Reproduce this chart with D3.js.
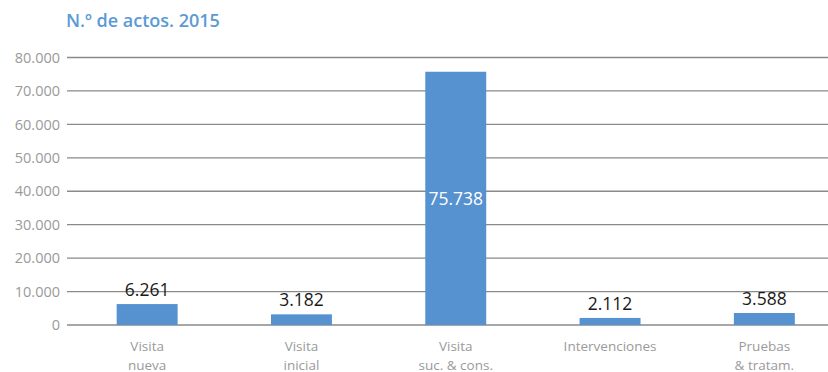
<!DOCTYPE html>
<html>
<head>
<meta charset="utf-8">
<script src="https://cdn.jsdelivr.net/npm/d3@7/dist/d3.min.js"></script>
<style>
  html, body { margin: 0; padding: 0; background: #fff; }
  svg { display: block; font-family: "Open Sans", "Noto Sans", sans-serif; }
</style>
</head>
<body>
<svg id="chart" width="828" height="372"></svg>
<script>
// Number of medical acts by type, 2015
const categories = [
  ["Visita", "nueva"],
  ["Visita", "inicial"],
  ["Visita", "suc. & cons."],
  ["Intervenciones"],
  ["Pruebas", "& tratam."]
];
const values = [6261, 3182, 75738, 2112, 3588];
const yTicks = [0, 10000, 20000, 30000, 40000, 50000, 60000, 70000, 80000];
const title = "N.º de actos. 2015";

const svg = d3.select("#chart");
const W = 828;

const x = d3.scaleBand()
  .domain(d3.range(categories.length))
  .range([70, 841.5])
  .paddingInner(0.605)
  .paddingOuter(0.3025);

const y = d3.scaleLinear().domain([0, 80000]).range([325, 57.5]);

const fmt = d3.formatLocale({ decimal: ",", thousands: ".", grouping: [3], currency: ["", "€"] }).format(",d");

// title
svg.append("text")
  .attr("x", 66).attr("y", 27)
  .attr("fill", "#5b9bd5")
  .attr("font-size", 18)
  .attr("font-weight", 600)
  .text(title);

// horizontal gridlines
svg.append("g")
  .selectAll("line")
  .data(yTicks)
  .join("line")
  .attr("x1", 67).attr("x2", W)
  .attr("y1", d => y(d)).attr("y2", d => y(d))
  .attr("stroke", "#8a8a8a")
  .attr("stroke-width", 1.3);

// y axis labels
const yAxis = d3.axisLeft(y).tickValues(yTicks).tickFormat(fmt).tickSize(0).tickPadding(0);
const gy = svg.append("g").attr("transform", "translate(60,0)").call(yAxis);
gy.select(".domain").remove();
gy.selectAll("text")
  .attr("fill", "#9a9a9a")
  .attr("font-size", 14.5)
  .attr("font-family", "'Open Sans', 'Noto Sans', sans-serif");

// bars
svg.append("g")
  .selectAll("rect")
  .data(values)
  .join("rect")
  .attr("x", (d, i) => x(i))
  .attr("width", x.bandwidth())
  .attr("y", d => y(d))
  .attr("height", d => y(0) - y(d))
  .attr("fill", "#5592cf");

// value labels: inside (white, centred) for tall bars, above otherwise
svg.append("g")
  .selectAll("text")
  .data(values)
  .join("text")
  .attr("x", (d, i) => x(i) + x.bandwidth() / 2)
  .attr("y", d => d > 40000 ? (y(d) + y(0)) / 2 : y(d) - 8)
  .attr("dy", d => d > 40000 ? "0.35em" : null)
  .attr("text-anchor", "middle")
  .attr("font-size", 17.5)
  .attr("fill", d => d > 40000 ? "#ffffff" : "#1a1a1a")
  .text(d => fmt(d));

// category labels, one text element per line
const lines = categories.flatMap((c, i) => c.map((t, j) => ({ i, j, t })));
svg.append("g")
  .selectAll("text")
  .data(lines)
  .join("text")
  .attr("x", d => x(d.i) + x.bandwidth() / 2)
  .attr("y", d => 351 + d.j * 18.5)
  .attr("text-anchor", "middle")
  .attr("font-size", 13.5)
  .attr("fill", "#9a9a9a")
  .text(d => d.t);
</script>
</body>
</html>
